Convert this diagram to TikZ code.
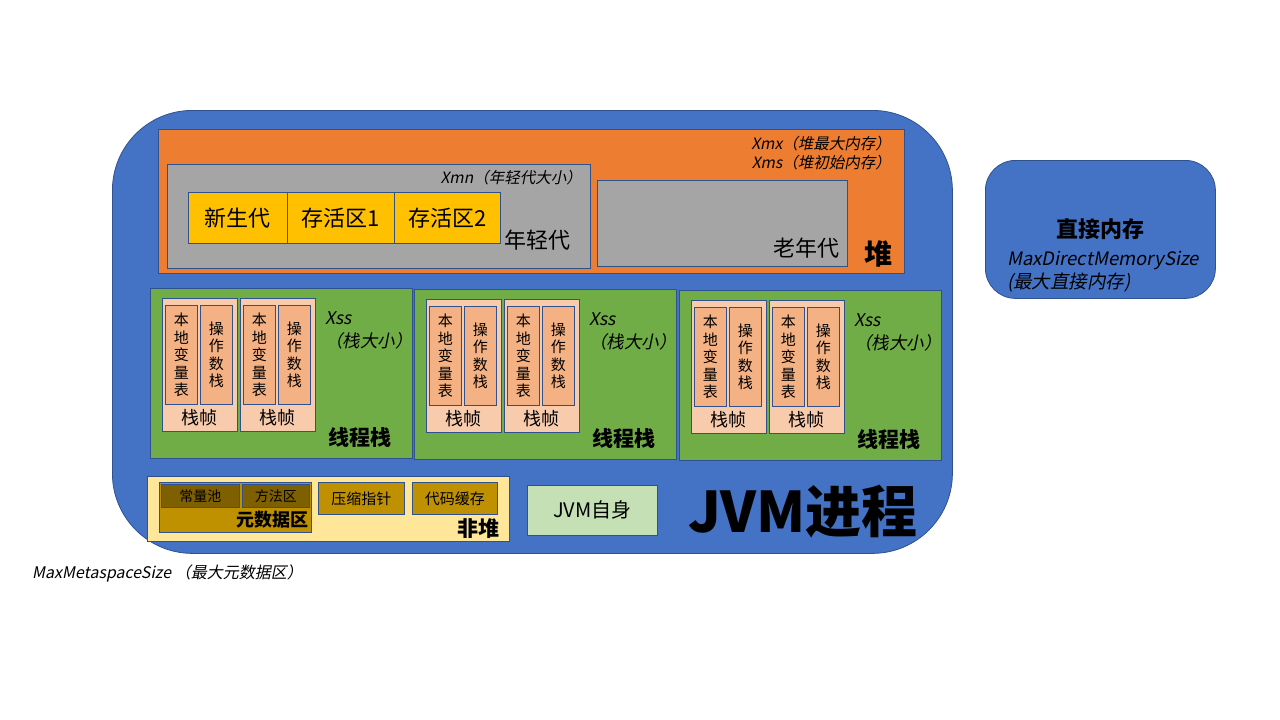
\documentclass[tikz,border=0pt]{standalone}
\usepackage{fontspec}
\setmainfont{Noto Sans CJK SC}
\newfontfamily\slcjk{Noto Sans CJK SC}[FakeSlant=0.2]
\definecolor{jvmblue}{HTML}{4472C4}
\definecolor{edgeblue}{HTML}{2F528F}
\definecolor{heaporange}{HTML}{ED7D31}
\definecolor{gengrey}{HTML}{A5A5A5}
\definecolor{edenyellow}{HTML}{FFC000}
\definecolor{stackgreen}{HTML}{70AD47}
\definecolor{framepink}{HTML}{F8CBAD}
\definecolor{slotpink}{HTML}{F4B183}
\definecolor{nonheapyellow}{HTML}{FFE699}
\definecolor{metagold}{HTML}{BF9000}
\definecolor{poolbrown}{HTML}{7F6000}
\definecolor{selfgreen}{HTML}{C5E0B4}
\begin{document}
\begin{tikzpicture}[x=1pt,y=-1pt]
    % Node styles
    \tikzset{
        box/.style={draw=edgeblue,line width=0.8pt,anchor=north west,inner sep=0pt},
        fs/.style={font=\fontsize{#1}{\fpeval{1.2*#1}}\selectfont},
        slot/.style={box,fill=slotpink,minimum width=32pt,minimum height=99pt,
            align=center,font=\fontsize{15}{17.5}\selectfont},
        note/.style={inner sep=0pt,font=\fontsize{#1}{\fpeval{1.2*#1}}\selectfont\slcjk}
    }
    \useasboundingbox (0,0) rectangle (1280,720);

    % --- JVM process ---
    \node[box,fill=jvmblue,rounded corners=80pt,minimum width=840pt,minimum height=443pt] (jvm) at (112,110) {};
    \node[inner sep=0pt,font=\fontsize{56}{60}\selectfont\bfseries] (jvmlabel) at (803,512) {JVM进程};

    % --- Heap ---
    \node[box,fill=heaporange,minimum width=746pt,minimum height=144pt] (heap) at (158,129) {};
    \node[note=15.5,anchor=north east,align=right] (xmx) at (891,136) {Xmx（堆最大内存）\\Xms（堆初始内存）};
    \node[inner sep=0pt,font=\fontsize{28}{30}\selectfont\bfseries] (heaplabel) at (878,254) {堆};

    % Young generation
    \node[box,fill=gengrey,minimum width=423pt,minimum height=104pt] (young) at (167,164) {};
    \node[note=15.5,anchor=east] (xmn) at (582,178) {Xmn（年轻代大小）};
    \node[box,fill=edenyellow,minimum width=99pt,minimum height=51pt,fs=22] (eden) at (188,192) {新生代};
    \node[box,fill=edenyellow,minimum width=107pt,minimum height=51pt,fs=22] (s1) at (287,192) {存活区1};
    \node[box,fill=edenyellow,minimum width=106pt,minimum height=51pt,fs=22] (s2) at (394,192) {存活区2};
    \node[inner sep=0pt,fs=22] (younglabel) at (537,240) {年轻代};

    % Old generation
    \node[box,fill=gengrey,minimum width=250pt,minimum height=86pt] (old) at (597,180) {};
    \node[inner sep=0pt,fs=22] (oldlabel) at (806,248) {老年代};

    % --- Thread stacks ---
    \foreach \sx/\sy/\n in {150/288/a,414/289/b,679/290/c}{
        \node[box,fill=stackgreen,minimum width=262pt,minimum height=170pt] (stack\n) at (\sx,\sy) {};
        \foreach \fx/\m in {12/1,90/2}{
            \node[box,fill=framepink,minimum width=75pt,minimum height=133pt] (frame\n\m) at (\sx+\fx,\sy+10) {};
            \node[slot] (locals\n\m) at (\sx+\fx+3,\sy+17) {本\\地\\变\\量\\表};
            \node[slot] (operand\n\m) at (\sx+\fx+38,\sy+17) {操\\作\\数\\栈};
            \node[inner sep=0pt,fs=18] (framelabel\n\m) at (\sx+\fx+37.5,\sy+130) {栈帧};
        }
        \node[inner sep=0pt,anchor=north west,align=left,font=\fontsize{17.5}{23}\selectfont\slcjk] (xss\n) at (\sx+175,\sy+23) {Xss\\（栈大小）};
        \node[inner sep=0pt,font=\fontsize{21}{24}\selectfont\bfseries] (stacklabel\n) at (\sx+210,\sy+149) {线程栈};
    }

    % --- Non-heap ---
    \node[box,fill=nonheapyellow,minimum width=362pt,minimum height=65pt] (nonheap) at (147,476) {};
    \node[box,fill=metagold,minimum width=152pt,minimum height=50pt] (meta) at (159,482) {};
    \node[box,fill=poolbrown,minimum width=78pt,minimum height=23pt,fs=14] (pool) at (161,484) {常量池};
    \node[box,fill=poolbrown,minimum width=67pt,minimum height=23pt,fs=14] (method) at (242,484) {方法区};
    \node[inner sep=0pt,anchor=east,font=\fontsize{18}{20}\selectfont\bfseries] (metalabel) at (309,520) {元数据区};
    \node[box,fill=metagold,minimum width=86pt,minimum height=32pt,fs=15] (ccs) at (318,482) {压缩指针};
    \node[box,fill=metagold,minimum width=85pt,minimum height=32pt,fs=15] (codecache) at (412,482) {代码缓存};
    \node[inner sep=0pt,font=\fontsize{21}{24}\selectfont\bfseries] (nonheaplabel) at (478,529) {非堆};
    \node[note=16,anchor=west] (maxmeta) at (32,573) {MaxMetaspaceSize （最大元数据区）};

    % --- JVM itself ---
    \node[box,fill=selfgreen,minimum width=130pt,minimum height=50pt,fs=20] (self) at (527,485) {JVM自身};

    % --- Direct memory ---
    \node[box,fill=jvmblue,rounded corners=30pt,minimum width=230pt,minimum height=138pt] (direct) at (985,160) {};
    \node[inner sep=0pt,font=\fontsize{22}{24}\selectfont\bfseries] (directlabel) at (1100,229) {直接内存};
    \node[note=18.5,anchor=west] (maxdirect) at (1007,260) {MaxDirectMemorySize};
    \node[note=18.5,anchor=west] (maxdirectcn) at (1007,283) {(最大直接内存)};
\end{tikzpicture}
\end{document}
